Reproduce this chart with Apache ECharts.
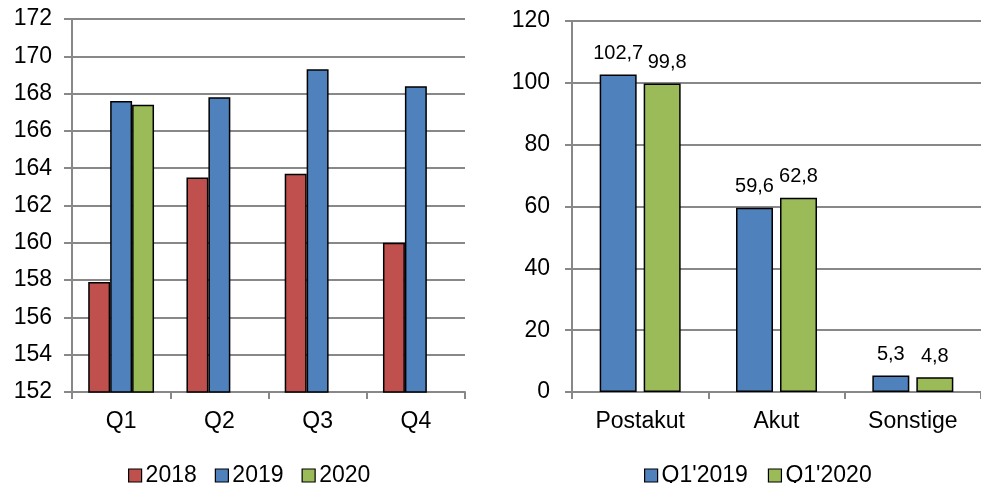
<!DOCTYPE html>
<html>
<head>
<meta charset="utf-8">
<script src="https://cdn.jsdelivr.net/npm/echarts@6/dist/echarts.min.js"></script>
<style>
  html, body { margin: 0; padding: 0; background: #fff; }
  #chart { width: 981px; height: 483px; }
</style>
</head>
<body>
<div id="chart"></div>
<script>
// Quarterly values per year (left panel)
const quarters = ['Q1', 'Q2', 'Q3', 'Q4'];
const years = ['2018', '2019', '2020'];
const values2018 = [157.9, 163.5, 163.7, 160.0];
const values2019 = [167.6, 167.8, 169.3, 168.4];
const values2020 = [167.4, null, null, null];

// Q1 comparison by category (right panel)
const groups = ['Postakut', 'Akut', 'Sonstige'];
const periods = ["Q1'2019", "Q1'2020"];
const q1of2019 = [102.7, 59.6, 5.3];
const q1of2020 = [99.8, 62.8, 4.8];

const FONT = 'Liberation Sans, Arial, sans-serif';
const AXIS_GREY = '#888888';
const RED = '#C0504D', BLUE = '#4F81BD', GREEN = '#9BBB59';

const barBorder = { borderColor: '#000', borderWidth: 1.5 };

function valueAxis(gridIndex, min, max, interval, margin, tickLen) {
  return {
    type: 'value', gridIndex, min, max, interval,
    axisLine: { show: true, lineStyle: { color: AXIS_GREY, width: 2 } },
    axisTick: { show: true, length: tickLen, lineStyle: { color: AXIS_GREY, width: 2 } },
    splitLine: { show: true, lineStyle: { color: AXIS_GREY, width: 2 } },
    axisLabel: { fontFamily: FONT, fontSize: 23, color: '#000', margin }
  };
}

function categoryAxis(gridIndex, data) {
  return {
    type: 'category', gridIndex, data,
    axisLine: { show: true, lineStyle: { color: AXIS_GREY, width: 2 } },
    axisTick: { show: true, length: 7, alignWithLabel: false, lineStyle: { color: AXIS_GREY, width: 2 } },
    axisLabel: { fontFamily: FONT, fontSize: 23, color: '#000', margin: 18 }
  };
}

const commaLabel = {
  show: true, position: 'top', distance: 11,
  fontFamily: FONT, fontSize: 20, color: '#000',
  formatter: p => String(p.value).replace('.', ',')
};

// The first green label is nudged right so it clears its neighbour.
const q1of2020Items = q1of2020.map((v, i) =>
  i === 0 ? { value: v, label: { offset: [5, 0] } } : v);

const legendBase = {
  icon: 'rect', itemWidth: 13, itemHeight: 13, itemGap: 18,
  itemStyle: { borderColor: '#000', borderWidth: 1.2 },
  textStyle: { fontFamily: FONT, fontSize: 23, color: '#000', padding: [0, 0, 0, -1] }
};

const chart = echarts.init(document.getElementById('chart'), null, { renderer: 'canvas' });
chart.setOption({
  animation: false,
  backgroundColor: '#fff',
  grid: [
    { left: 72, top: 19, width: 393, height: 373 },
    { left: 572, top: 21, width: 409, height: 371 }
  ],
  xAxis: [categoryAxis(0, quarters), categoryAxis(1, groups)],
  yAxis: [valueAxis(0, 152, 172, 2, 20, 8), valueAxis(1, 0, 120, 20, 22, 7)],
  legend: [
    Object.assign({}, legendBase, { data: years, left: 123, top: 459 }),
    Object.assign({}, legendBase, { data: periods, left: 639, top: 459, itemGap: 20 })
  ],
  series: [
    { name: '2018', type: 'bar', xAxisIndex: 0, yAxisIndex: 0, data: values2018,
      barGap: '0%', barCategoryGap: '33%', itemStyle: { color: RED, ...barBorder } },
    { name: '2019', type: 'bar', xAxisIndex: 0, yAxisIndex: 0, data: values2019,
      itemStyle: { color: BLUE, ...barBorder } },
    { name: '2020', type: 'bar', xAxisIndex: 0, yAxisIndex: 0, data: values2020,
      itemStyle: { color: GREEN, ...barBorder } },
    { name: "Q1'2019", type: 'bar', xAxisIndex: 1, yAxisIndex: 1, data: q1of2019,
      barGap: '19%', barCategoryGap: '40.6%', itemStyle: { color: BLUE, ...barBorder }, label: commaLabel },
    { name: "Q1'2020", type: 'bar', xAxisIndex: 1, yAxisIndex: 1, data: q1of2020Items,
      itemStyle: { color: GREEN, ...barBorder }, label: commaLabel }
  ]
});
</script>
</body>
</html>
